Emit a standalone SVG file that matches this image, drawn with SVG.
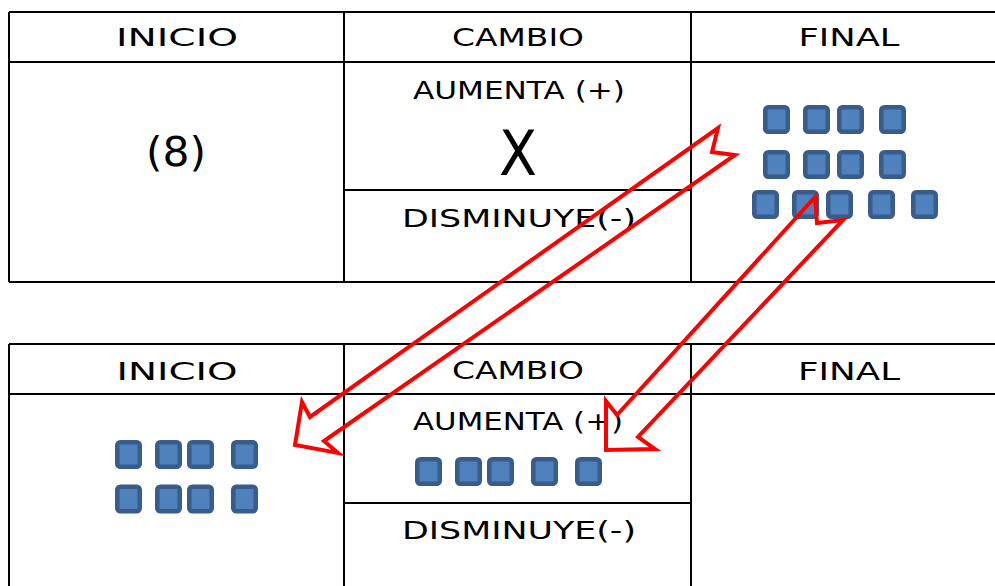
<svg xmlns="http://www.w3.org/2000/svg" width="995" height="586" viewBox="0 0 995 586">
  <defs>
    <style>
      .grid { stroke: #000; stroke-width: 2; fill: none; }
      .lbl { font-family: "DejaVu Sans", "Noto Sans", sans-serif; font-size: 25px; fill: #000; text-anchor: middle; }
      .big { font-family: "DejaVu Sans", "Noto Sans", sans-serif; fill: #000; text-anchor: middle; }
      .sq { fill: #4F81BD; stroke: #385D8A; stroke-width: 4.5; }
      .arrow { fill: none; stroke: #FF0000; stroke-width: 4; stroke-linejoin: miter; }
    </style>
    <rect id="sq" class="sq" x="2.25" y="2.25" width="22.5" height="24.5" rx="3"/>
  </defs>
  <rect width="995" height="586" fill="#fff"/>

  <!-- upper table -->
  <g id="table-top">
    <path class="grid" d="M9 12H995M9 62H995M9 282H995M9 12V282M344 12V282M691 12V282M344 190H691"/>
  </g>
  <g id="top-inicio">
    <text class="lbl" x="177" y="46" textLength="122" lengthAdjust="spacingAndGlyphs">INICIO</text>
    <text class="big" x="176" y="166" font-size="40" textLength="60" lengthAdjust="spacingAndGlyphs">(8)</text>
  </g>
  <g id="top-cambio">
    <text class="lbl" x="518" y="46" textLength="132" lengthAdjust="spacingAndGlyphs">CAMBIO</text>
    <text class="lbl" x="519" y="99" textLength="212" lengthAdjust="spacingAndGlyphs">AUMENTA (+)</text>
    <text class="big" x="518" y="175" font-size="62" textLength="38" lengthAdjust="spacingAndGlyphs">X</text>
    <text class="lbl" x="519" y="227" textLength="234" lengthAdjust="spacingAndGlyphs">DISMINUYE(-)</text>
  </g>
  <g id="top-final">
    <text class="lbl" x="849" y="46" textLength="101" lengthAdjust="spacingAndGlyphs">FINAL</text>
    <use href="#sq" x="763" y="105"/><use href="#sq" x="803" y="105"/><use href="#sq" x="837" y="105"/><use href="#sq" x="879" y="105"/>
    <use href="#sq" x="763" y="150"/><use href="#sq" x="803" y="150"/><use href="#sq" x="837" y="150"/><use href="#sq" x="879" y="150"/>
    <use href="#sq" x="752" y="190"/><use href="#sq" x="792" y="190"/><use href="#sq" x="826" y="190"/><use href="#sq" x="868" y="190"/><use href="#sq" x="911" y="190"/>
  </g>

  <!-- lower table -->
  <g id="table-bottom">
    <path class="grid" d="M9 344H995M9 394H995M9 344V586M344 344V586M691 344V586M344 503H691"/>
  </g>
  <g id="bottom-inicio">
    <text class="lbl" x="177" y="380" textLength="121" lengthAdjust="spacingAndGlyphs">INICIO</text>
    <use href="#sq" x="115" y="440"/><use href="#sq" x="155" y="440"/><use href="#sq" x="187" y="440"/><use href="#sq" x="231" y="440"/>
    <use href="#sq" x="115" y="484.5"/><use href="#sq" x="155" y="484.5"/><use href="#sq" x="187" y="484.5"/><use href="#sq" x="231" y="484.5"/>
  </g>
  <g id="bottom-cambio">
    <text class="lbl" x="518" y="379" textLength="132" lengthAdjust="spacingAndGlyphs">CAMBIO</text>
    <text class="lbl" x="518" y="430" textLength="210" lengthAdjust="spacingAndGlyphs">AUMENTA (+)</text>
    <use href="#sq" x="415" y="457"/><use href="#sq" x="455" y="457"/><use href="#sq" x="487" y="457"/><use href="#sq" x="531" y="457"/><use href="#sq" x="575" y="457"/>
    <text class="lbl" x="519" y="539" textLength="234" lengthAdjust="spacingAndGlyphs">DISMINUYE(-)</text>
  </g>
  <g id="bottom-final">
    <text class="lbl" x="849" y="380" textLength="102" lengthAdjust="spacingAndGlyphs">FINAL</text>
  </g>

  <!-- notched block arrows -->
  <g id="connectors">
    <polygon class="arrow" points="718,128 712,152 735,155 324,441 338,453 295,445 302,402 310,417"/>
    <polygon class="arrow" points="815,197 817,223 843,220 638,437 655,449 606,450 606,401 617,415"/>
  </g>
</svg>
